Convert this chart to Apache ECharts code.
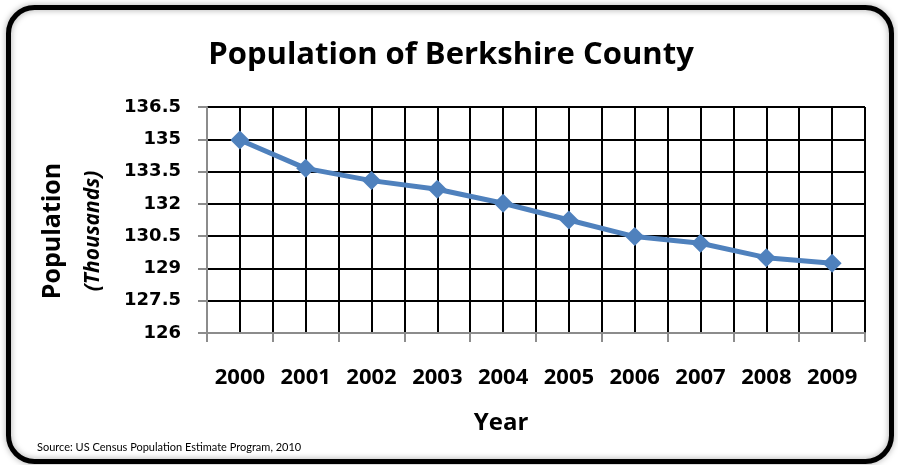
<!DOCTYPE html>
<html>
<head>
<meta charset="utf-8">
<title>Population of Berkshire County</title>
<script src="https://cdn.jsdelivr.net/npm/echarts@6/dist/echarts.min.js"></script>
<style>
  html, body { margin: 0; padding: 0; background: #fff; }
  #chart { width: 898px; height: 465px; }
</style>
</head>
<body>
<div id="chart"></div>
<script>
// Population estimates, in thousands
const years = ['2000', '2001', '2002', '2003', '2004', '2005', '2006', '2007', '2008', '2009'];
const population = [134.97, 133.65, 133.08, 132.68, 132.03, 131.25, 130.48, 130.17, 129.50, 129.24];

// Value axis range and step
const yMin = 126;
const yMax = 136.5;
const yStep = 1.5;

const chartTitle = 'Population of Berkshire County';
const yTitle = 'Population';
const yUnit = '(Thousands)';
const xTitle = 'Year';
const sourceNote = 'Source: US Census Population Estimate Program, 2010';

const chart = echarts.init(document.getElementById('chart'), null, { renderer: 'canvas' });

const axisGrey = '#8c8c8c';
const labelFont = 'DejaVu Sans';
const mainFont = 'Open Sans';

chart.setOption({
  animation: false,
  backgroundColor: '#ffffff',
  grid: { left: 207, right: 33, top: 107, bottom: 132, containLabel: false },
  xAxis: [
    {
      type: 'category',
      data: years,
      boundaryGap: true,
      axisLine: { show: true, lineStyle: { color: axisGrey, width: 2 } },
      axisTick: { show: true, length: 9, lineStyle: { color: axisGrey, width: 2 } },
      axisLabel: {
        margin: 34,
        color: '#000',
        fontFamily: mainFont,
        fontWeight: 'bold',
        fontSize: 22
      },
      splitLine: { show: false },
      z: 3
    },
    {
      // half-step grid: one line per category centre and boundary
      type: 'value',
      position: 'top',
      min: 0,
      max: years.length,
      interval: 0.5,
      axisLine: { show: false },
      axisTick: { show: false },
      axisLabel: { show: false },
      splitLine: { show: true, showMinLine: false, lineStyle: { color: '#000', width: 2 } }
    }
  ],
  yAxis: {
    type: 'value',
    min: yMin,
    max: yMax,
    interval: yStep,
    axisLine: { show: true, lineStyle: { color: axisGrey, width: 2 } },
    axisTick: { show: true, length: 9, lineStyle: { color: axisGrey, width: 2 } },
    axisLabel: {
      margin: 26,
      color: '#000',
      fontFamily: labelFont,
      fontWeight: 'bold',
      fontSize: 18,
      formatter: v => String(Math.round(v * 10) / 10)
    },
    splitLine: { show: true, showMinLine: false, lineStyle: { color: '#000', width: 2 } },
    z: 3
  },
  series: [{
    type: 'line',
    xAxisIndex: 0,
    data: population,
    symbol: 'diamond',
    symbolSize: 19,
    lineStyle: { color: '#4f81bd', width: 5 },
    itemStyle: { color: '#4f81bd' },
    z: 5
  }],
  graphic: [
    {
      type: 'rect',
      shape: { x: 8.5, y: 7.5, width: 883, height: 454, r: 26 },
      style: {
        fill: 'none',
        stroke: '#000',
        lineWidth: 5,
        shadowBlur: 6,
        shadowColor: 'rgba(0,0,0,0.35)'
      },
      z: 10
    },
    {
      type: 'text',
      x: 451, y: 55,
      style: {
        text: chartTitle,
        fontFamily: mainFont, fontWeight: 'bold', fontSize: 31,
        fill: '#000', align: 'center', verticalAlign: 'middle'
      }
    },
    {
      type: 'text',
      x: 53, y: 231,
      rotation: Math.PI / 2,
      style: {
        text: yTitle,
        fontFamily: mainFont, fontWeight: 'bold', fontSize: 25,
        fill: '#000', align: 'center', verticalAlign: 'middle'
      }
    },
    {
      type: 'text',
      x: 93, y: 231,
      rotation: Math.PI / 2,
      style: {
        text: yUnit,
        fontFamily: mainFont, fontWeight: 'bold', fontStyle: 'italic', fontSize: 21,
        fill: '#000', align: 'center', verticalAlign: 'middle'
      }
    },
    {
      type: 'text',
      x: 501, y: 423,
      style: {
        text: xTitle,
        fontFamily: mainFont, fontWeight: 'bold', fontSize: 24,
        fill: '#000', align: 'center', verticalAlign: 'middle'
      }
    },
    {
      type: 'text',
      x: 37, y: 447,
      style: {
        text: sourceNote,
        fontFamily: 'Lato', fontSize: 11,
        fill: '#000', align: 'left', verticalAlign: 'middle'
      }
    }
  ]
});
</script>
</body>
</html>
